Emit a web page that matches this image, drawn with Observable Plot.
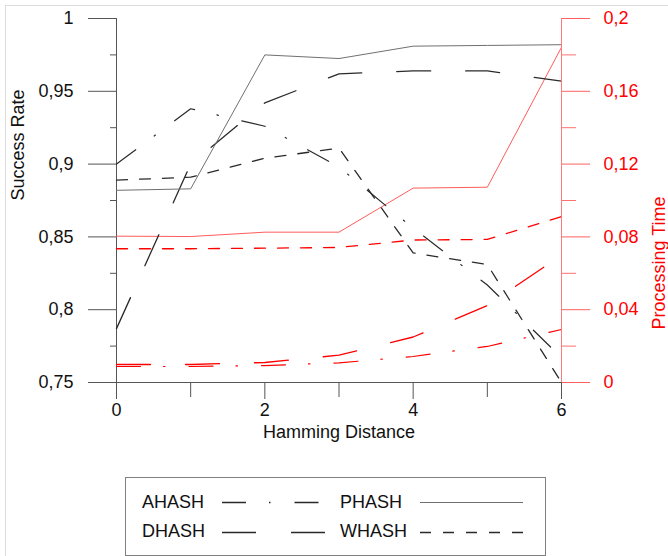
<!DOCTYPE html>
<html>
<head>
<meta charset="utf-8">
<script src="https://cdn.jsdelivr.net/npm/d3@7"></script>
<script src="https://cdn.jsdelivr.net/npm/@observablehq/plot@0.6"></script>
<style>
  body { margin: 0; background: #fff; font-family: "Liberation Sans", Arial, sans-serif; }
  #wrap { position: relative; width: 668px; height: 556px; overflow: hidden; background: #fff; }
  #edge { position: absolute; left: 5px; top: 5px; right: -2px; bottom: -2px; border-left: 1px solid #dcdcdc; border-top: 1px solid #dcdcdc; pointer-events: none; }
  #legend { position: absolute; left: 125px; top: 477px; width: 421px; height: 79px; box-sizing: border-box; border: 1px solid #808080; background: #fff; }
  #legend svg { position: absolute; left: 0; top: 0; }
</style>
</head>
<body>
<div id="wrap"><div id="edge"></div></div>
<script>
// ---- data ----
const hamming = [0, 1, 2, 3, 4, 5, 6];
const seriesNames = ["AHASH", "DHASH", "PHASH", "WHASH"];

const successAHASH = [0.900, 0.938, 0.926, 0.898, 0.856, 0.817, 0.767];
const successDHASH = [0.787, 0.900, 0.942, 0.962, 0.964, 0.964, 0.957];
const successPHASH = [0.882, 0.883, 0.975, 0.9725, 0.981, 0.9815, 0.982];
const successWHASH = [0.889, 0.891, 0.904, 0.911, 0.839, 0.831, 0.750];

const timeAHASH = [0.0088, 0.0088, 0.0093, 0.0108, 0.0143, 0.0198, 0.0291];
const timeDHASH = [0.0099, 0.0099, 0.0110, 0.0150, 0.0250, 0.0423, 0.0700];
const timePHASH = [0.0804, 0.0802, 0.0826, 0.0826, 0.1068, 0.1073, 0.1842];
const timeWHASH = [0.0735, 0.0735, 0.0738, 0.0742, 0.0783, 0.0786, 0.0912];

const successTicks = [0.75, 0.8, 0.85, 0.9, 0.95, 1];
const successTickLabels = ["0,75", "0,8", "0,85", "0,9", "0,95", "1"];
const successMinorTicks = [0.775, 0.825, 0.875, 0.925, 0.975];
const timeTicks = [0, 0.04, 0.08, 0.12, 0.16, 0.2];
const timeTickLabels = ["0", "0,04", "0,08", "0,12", "0,16", "0,2"];
const timeMinorTicks = [0.02, 0.06, 0.1, 0.14, 0.18];
const hammingTicks = [0, 2, 4, 6];
const hammingTickLabels = ["0", "2", "4", "6"];
const hammingMinorTicks = [1, 3, 5];

// ---- styles ----
const successDomain = [0.75, 1];
const timeDomain = [0, 0.2];
const toY = t => successDomain[0] + (t - timeDomain[0]) / (timeDomain[1] - timeDomain[0]) * (successDomain[1] - successDomain[0]);

const dashes = { AHASH: "24,23,1.5,24", DHASH: "34,35", PHASH: "none", WHASH: "11,12" };
const blackColor = { AHASH: "#2a2a2a", DHASH: "#2a2a2a", PHASH: "#707070", WHASH: "#2a2a2a" };
const redColor = { AHASH: "#ff0000", DHASH: "#ff0000", PHASH: "#ff5c5c", WHASH: "#ff0000" };
const widths = { AHASH: 1.2, DHASH: 1.3, PHASH: 1, WHASH: 1.3 };

const successData = { AHASH: successAHASH, DHASH: successDHASH, PHASH: successPHASH, WHASH: successWHASH };
const timeData = { AHASH: timeAHASH, DHASH: timeDHASH, PHASH: timePHASH, WHASH: timeWHASH };

const rows = [];
for (const name of seriesNames) {
  hamming.forEach((h, i) => {
    rows.push({ name, kind: "success", x: h, y: successData[name][i] });
    rows.push({ name, kind: "time", x: h, y: toY(timeData[name][i]) });
  });
}

const lookup = (values, labels) => d => {
  const i = values.findIndex(v => Math.abs(v - d) < 1e-9);
  return i >= 0 ? labels[i] : "";
};

const font = "Liberation Sans, Arial, sans-serif";
const lineMarks = [];
for (const name of seriesNames) {
  lineMarks.push(Plot.line(rows.filter(r => r.name === name && r.kind === "time"), {
    x: "x", y: "y", stroke: redColor[name], strokeWidth: widths[name], strokeDasharray: dashes[name]
  }));
}
for (const name of seriesNames) {
  lineMarks.push(Plot.line(rows.filter(r => r.name === name && r.kind === "success"), {
    x: "x", y: "y", stroke: blackColor[name], strokeWidth: widths[name], strokeDasharray: dashes[name]
  }));
}

const chart = Plot.plot({
  width: 668,
  height: 556,
  marginLeft: 116,
  marginRight: 107,
  marginTop: 18,
  marginBottom: 174,
  x: { domain: [hamming[0], hamming[hamming.length - 1]], axis: null },
  y: { domain: successDomain, axis: null },
  style: { fontFamily: font, fontSize: "18px", background: "transparent", overflow: "visible" },
  marks: [
    // left axis
    Plot.axisY(successMinorTicks, { anchor: "left", tickSize: 6, tickFormat: () => "", stroke: "#555", label: null }),
    Plot.axisY(successTicks, { anchor: "left", tickSize: 28, tickPadding: 15, tickFormat: lookup(successTicks, successTickLabels), stroke: "#555", fill: "#111", fontSize: 18, label: null }),
    // right axis
    Plot.axisY(timeMinorTicks.map(toY), { anchor: "right", tickSize: 14, tickFormat: () => "", stroke: "#ff7070", label: null }),
    Plot.axisY(timeTicks.map(toY), { anchor: "right", tickSize: 28, tickPadding: 14, tickFormat: lookup(timeTicks.map(toY), timeTickLabels), stroke: "#ff6060", fill: "#ff0000", fontSize: 18, label: null }),
    // bottom axis
    Plot.axisX(hammingMinorTicks, { anchor: "bottom", tickSize: 15, tickFormat: () => "", stroke: "#555", label: null }),
    Plot.axisX(hammingTicks, { anchor: "bottom", tickSize: 17, tickPadding: 4, tickFormat: lookup(hammingTicks, hammingTickLabels), stroke: "#555", fill: "#111", fontSize: 18, label: null }),
    // axis lines
    Plot.ruleY([successDomain[0]], { stroke: "#555" }),
    Plot.ruleX([hamming[0]], { stroke: "#555" }),
    ...lineMarks,
    Plot.ruleX([hamming[hamming.length - 1]], { stroke: "#ff7a7a" }),
    // axis titles
    Plot.text(["Success Rate"], { text: d => d, frameAnchor: "left", dx: -98, rotate: -90, fontSize: 18, fill: "#111" }),
    Plot.text(["Processing Time"], { text: d => d, frameAnchor: "right", dx: 98, dy: -4, rotate: -90, fontSize: 18, fill: "#ff0000" }),
    Plot.text(["Hamming Distance"], { text: d => d, frameAnchor: "bottom", dy: 55, fontSize: 18, fill: "#111" })
  ]
});

const wrap = document.getElementById("wrap");
chart.style.position = "absolute";
chart.style.left = "0px";
chart.style.top = "0px";
wrap.appendChild(chart);

// ---- legend (HTML box with svg samples) ----
const legend = document.createElement("div");
legend.id = "legend";
wrap.appendChild(legend);
const lsvg = d3.select(legend).append("svg").attr("width", 419).attr("height", 77)
  .style("font-family", font).style("font-size", "18px");
const legendLayout = [
  { name: "AHASH", tx: 16, ty: 30, ly: 24 },
  { name: "PHASH", tx: 214, ty: 30, ly: 24 },
  { name: "DHASH", tx: 16, ty: 59, ly: 54 },
  { name: "WHASH", tx: 214, ty: 59, ly: 54 }
];
for (const item of legendLayout) {
  lsvg.append("text").attr("x", item.tx).attr("y", item.ty).attr("fill", "#111").text(item.name);
  lsvg.append("line")
    .attr("x1", item.tx + 80).attr("x2", item.tx + 183)
    .attr("y1", item.ly + 0.5).attr("y2", item.ly + 0.5)
    .attr("stroke", blackColor[item.name])
    .attr("stroke-width", item.name === "PHASH" ? 1 : 1.3)
    .attr("stroke-dasharray", dashes[item.name]);
}
</script>
</body>
</html>
